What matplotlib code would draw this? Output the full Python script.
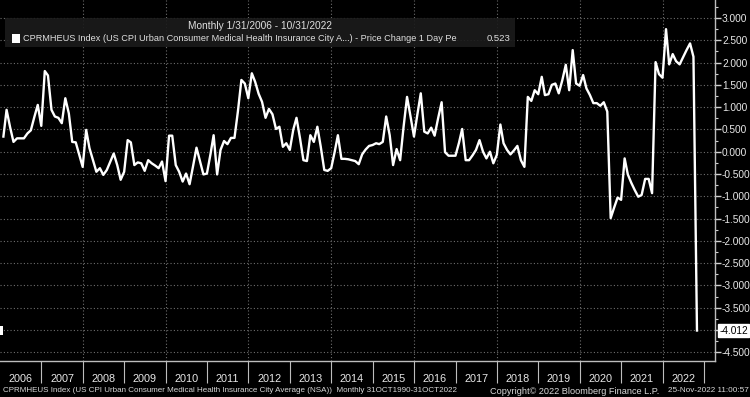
import matplotlib
matplotlib.use("Agg")
import matplotlib.pyplot as plt
import matplotlib.ticker as mticker
import matplotlib.transforms as mtrans
from matplotlib.patches import Rectangle
import pandas as pd

# Monthly price change, CPRMHEUS Index, Jan 2006 .. Oct 2022
PRICE_CHANGE = [
    0.34, 0.94, 0.55, 0.22, 0.30, 0.30, 0.30, 0.41, 0.48, 0.78, 1.05, 0.58,
    1.81, 1.71, 0.94, 0.79, 0.76, 0.64, 1.20, 0.86, 0.22, 0.21, -0.06, -0.34,
    0.49, 0.08, -0.19, -0.45, -0.37, -0.52, -0.41, -0.22, -0.04, -0.30, -0.63, -0.45,
    0.26, 0.21, -0.30, -0.24, -0.26, -0.43, -0.19, -0.26, -0.31, -0.37, -0.22, -0.66,
    0.36, 0.36, -0.30, -0.45, -0.67, -0.49, -0.73, -0.32, 0.09, -0.21, -0.51, -0.49,
    -0.06, 0.37, -0.51, 0.04, 0.24, 0.17, 0.31, 0.31, 0.90, 1.61, 1.53, 1.20,
    1.76, 1.57, 1.30, 1.12, 0.76, 0.96, 0.84, 0.51, 0.56, 0.11, 0.19, 0.04,
    0.50, 0.76, 0.30, -0.19, -0.21, 0.37, 0.22, 0.56, 0.11, -0.41, -0.43, -0.37,
    0.00, 0.37, -0.16, -0.16, -0.17, -0.19, -0.21, -0.28, -0.06, 0.05, 0.13, 0.15,
    0.19, 0.17, 0.22, 0.79, 0.37, -0.30, 0.06, -0.19, 0.55, 1.23, 0.80, 0.34,
    0.85, 1.31, 0.45, 0.41, 0.54, 0.36, 0.75, 1.11, -0.01, -0.09, -0.09, -0.09,
    0.20, 0.51, -0.19, -0.19, -0.08, 0.04, 0.26, 0.00, -0.15, 0.00, -0.26, -0.07,
    0.61, 0.19, 0.04, -0.06, 0.03, 0.13, -0.19, -0.34, 1.23, 1.14, 1.38, 1.29,
    1.68, 1.27, 1.29, 1.50, 1.53, 1.31, 1.60, 1.95, 1.38, 2.28, 1.53, 1.48,
    1.72, 1.42, 1.27, 1.09, 1.09, 1.03, 1.11, 0.90, -1.49, -1.25, -1.03, -1.08,
    -0.15, -0.51, -0.70, -0.86, -1.01, -0.97, -0.61, -0.61, -0.93, 2.01, 1.74, 1.66,
    2.75, 1.96, 2.19, 2.03, 1.96, 2.12, 2.28, 2.43, 2.13, -4.012,
]
YEARS = list(range(2006, 2023))
Y_TICKS = [3.0, 2.5, 2.0, 1.5, 1.0, 0.5, 0.0, -0.5, -1.0, -1.5, -2.0, -2.5, -3.0, -3.5, -4.0, -4.5]
LEGEND_VALUE = "0.523"

plt.rcParams["font.family"] = ["Liberation Sans", "DejaVu Sans"]

W, H = 750, 397
fig = plt.figure(figsize=(W / 100, H / 100), dpi=100, facecolor="black")
ax = fig.add_axes([0, 36 / H, 715 / W, 361 / H])
ax.set_facecolor("black")

dates = pd.date_range("2006-01-31", periods=len(PRICE_CHANGE), freq="ME")
ax.plot(dates, PRICE_CHANGE, color="white", linewidth=1.7, zorder=3,
        solid_joinstyle="round")

ax.set_xlim(pd.Timestamp("2006-01-01"), pd.Timestamp("2023-04-08"))
ax.set_ylim(-4.696, 3.404)

last = PRICE_CHANGE[-1]

# right-hand value axis; the label nearest the last value sits under its flag
ax.yaxis.tick_right()
ax.set_yticks(Y_TICKS)
ax.set_yticklabels(["" if abs(v - last) < 0.25 else f"{v:.3f}" for v in Y_TICKS])
ax.yaxis.set_minor_locator(mticker.MultipleLocator(0.25))
ax.tick_params(axis="y", which="major", direction="out", length=4, width=1,
               color="#d0d0d0", labelcolor="#e8e8e8", labelsize=7.3, pad=1)
ax.tick_params(axis="y", which="minor", direction="out", length=2.5, width=0.8,
               color="#d0d0d0")

# year labels centred, separators at year boundaries
ax.set_xticks([pd.Timestamp(f"{y}-07-02") for y in YEARS])
ax.set_xticklabels([str(y) for y in YEARS])
ax.set_xticks([pd.Timestamp(f"{y}-01-01") for y in YEARS[1:] + [YEARS[-1] + 1]], minor=True)
ax.tick_params(axis="x", which="major", length=0, labelcolor="#e8e8e8", labelsize=7.8, pad=9)
ax.tick_params(axis="x", which="minor", direction="out", length=16, width=0.8, color="#bdbdbd")

ax.grid(axis="y", which="major", color="#6e6e6e", linestyle=(0, (1, 2)), linewidth=0.8, zorder=1)
for y in range(2008, 2023, 2):
    ax.axvline(pd.Timestamp(f"{y}-01-01"), color="#6e6e6e", linestyle=(0, (1, 2)),
               linewidth=0.8, zorder=1)

for side in ("top", "left"):
    ax.spines[side].set_visible(False)
for side in ("bottom", "right"):
    ax.spines[side].set_color("#bdbdbd")
    ax.spines[side].set_linewidth(1.0)

# last value markers
blend = mtrans.blended_transform_factory(ax.transAxes, ax.transData)
ax.text(1.006, last, f"{last:.3f}", transform=blend, ha="left", va="center",
        fontsize=7.3, color="black", clip_on=False,
        bbox=dict(boxstyle="square,pad=0.12", facecolor="white", edgecolor="white"))
ax.add_patch(Rectangle((0, last - 0.11), 0.004, 0.22, transform=blend,
                       facecolor="white", edgecolor="none", clip_on=False, zorder=4))

# legend panel
fig.add_artist(Rectangle((5 / W, 1 - 47 / H), 510 / W, 29 / H, transform=fig.transFigure,
                         facecolor="#1b1b1b", edgecolor="none", alpha=0.9, zorder=5))
fig.add_artist(Rectangle((12 / W, 1 - 43 / H), 8 / W, 9 / H, transform=fig.transFigure,
                         facecolor="white", edgecolor="none", zorder=6))
fig.text(260 / W, 1 - 26 / H, "Monthly 1/31/2006 - 10/31/2022", ha="center", va="center",
         fontsize=7.3, color="#e0e0e0", zorder=6)
fig.text(23 / W, 1 - 38.5 / H,
         "CPRMHEUS Index (US CPI Urban Consumer Medical Health Insurance City A...) - Price Change 1 Day Pe",
         ha="left", va="center", fontsize=6.6, color="#e0e0e0", zorder=6)
fig.text(487 / W, 1 - 38.5 / H, LEGEND_VALUE, ha="left", va="center",
         fontsize=6.8, color="#e0e0e0", zorder=6)

# footer
fig.text(3 / W, 1 - 391 / H,
         "CPRMHEUS Index (US CPI Urban Consumer Medical Health Insurance City Average (NSA))  Monthly 31OCT1990-31OCT2022",
         ha="left", va="center", fontsize=5.8, color="#d8d8d8")
fig.text(490 / W, 1 - 391 / H, "Copyright\u00a9 2022 Bloomberg Finance L.P.", ha="left", va="center",
         fontsize=6.6, color="#d8d8d8")
fig.text(749 / W, 1 - 391 / H, "25-Nov-2022 11:00:57", ha="right", va="center",
         fontsize=5.9, color="#d8d8d8")

fig.savefig("out.png", dpi=100, facecolor="black")
